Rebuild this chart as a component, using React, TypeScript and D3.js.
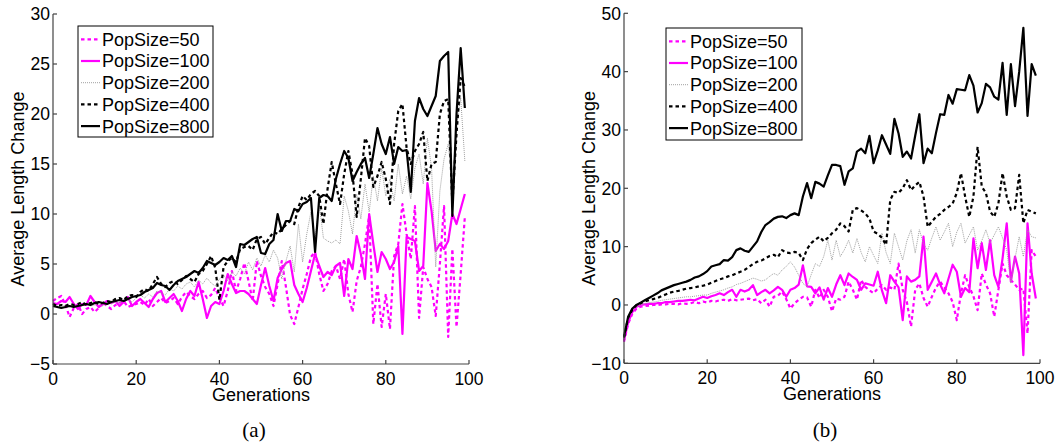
import React from 'react';
import * as d3 from 'd3';

// generations 0..99
const GENERATIONS = d3.range(100);

// panel (a)
const A_POP50 = [
  1.3, 1.6, 1.8, 0.9, -0.3, 0.6, 1.0, 0.0, 0.5, 0.7,
  0.2, 0.6, 1.2, 0.8, 0.5, 0.9, 1.1, 1.3, 0.7, 0.9,
  1.0, 1.2, 0.9, 1.5, 0.8, 1.2, 1.6, 1.1, 1.3, 1.6,
  1.0, 1.7, 2.2, 1.8, 1.5, 2.0, 2.3, 1.6, 1.9, 2.6,
  1.6, 0.8, 2.3, 4.3, 2.3, 3.5, 5.1, 3.3, 1.3, 5.3,
  3.8, 2.7, 2.0, 0.8, 3.0, 5.3, 2.7, -0.1, -1.0, 0.7,
  2.5, 4.0, 5.7, 6.2, 4.0, 2.3, 3.0, 4.3, 4.8, 3.5,
  5.5, 2.0, 0.2, 3.3, 4.7, 7.0, 9.8, -1.0, 3.0, -1.3,
  2.0, -1.5, 5.8, 7.0, 11.0, 8.0, 5.5, 10.8, -0.4, 4.7,
  3.5, 2.7, -0.2, 5.0, 10.8, -2.3, 6.5, -1.3, 4.0, 9.7,
];
const A_POP100 = [
  1.1, 1.0, 1.3, 1.2, 1.7, 1.0, 0.5, 1.0, 0.9, 1.8,
  1.2, 0.7, 1.0, 1.3, 1.1, 1.3, 0.8, 1.2, 1.7, 0.8,
  1.2, 1.5, 1.1, 0.7, 1.5, 2.1, 2.3, 1.2, 1.6, 2.0,
  1.3, 0.3, 1.5, 2.3, 1.8, 3.2, 1.5, -0.4, 0.8, 1.2,
  1.0, 2.3, 4.0, 3.0, 2.1, 2.3, 2.3, 2.0, 1.5, 1.0,
  2.9, 4.6, 2.8, 1.3, 3.6, 4.5, 5.1, 5.3, 2.9, 2.0,
  1.2, 2.6, 4.3, 6.0, 4.8, 3.7, 4.2, 3.9, 4.8, 5.1,
  1.8, 5.5, 4.5, 7.8, 6.0, 3.5, 10.0, 7.0, 4.2, 6.2,
  5.5, 4.5, 5.2, 6.8, -2.0, 7.7, 7.5, 7.3, 4.3, 4.8,
  13.1, 10.3, 6.3, 7.0, 6.5, 7.3, 10.0, 9.0, 10.5, 12.0,
];
const A_POP200 = [
  0.9, 0.8, 0.7, 0.9, 0.8, 0.7, 0.9, 0.8, 1.0, 0.8,
  0.9, 1.0, 0.8, 1.1, 1.0, 1.2, 1.1, 1.3, 1.4, 1.2,
  1.6, 1.9, 1.6, 2.0, 1.7, 2.3, 2.1, 1.9, 2.5, 2.3,
  2.8, 2.5, 3.0, 3.2, 2.7, 3.4, 3.0, 3.6, 3.1, 2.8,
  3.5, 3.9, 3.3, 4.2, 3.8, 4.6, 4.0, 5.2, 4.4, 5.6,
  4.8, 5.9, 5.2, 6.4, 5.6, 3.5, 5.3, 6.8, 4.2, 9.0,
  5.2, 8.0, 10.2, 7.5, 11.0, 7.6, 7.3, 7.1, 7.4, 7.0,
  11.8, 10.3, 8.0, 12.0, 9.5, 13.0, 10.2, 13.8, 11.3, 14.6,
  11.8, 13.5, 11.3, 15.0, 12.0, 13.8, 11.5, 14.6, 16.0, 13.0,
  17.6, 14.6, 4.7, 12.3, 15.5, 17.0, 13.0, 19.0, 21.6, 15.3,
];
const A_POP400 = [
  1.0, 0.8, 0.9, 0.8, 1.0, 0.9, 1.0, 1.2, 0.9, 1.1,
  1.2, 1.0, 1.1, 1.3, 1.2, 1.5, 1.6, 1.4, 1.8, 1.9,
  1.7, 2.2, 2.5, 2.3, 3.0, 3.7, 3.0, 2.7, 3.1, 3.3,
  3.0, 3.4, 3.8, 3.5, 3.2, 4.0, 4.3, 5.0, 5.8, 4.6,
  1.4, 4.7, 5.3, 5.6, 5.2, 6.5, 6.7, 6.8, 6.4, 7.5,
  7.7, 7.0, 7.6, 8.2, 8.0, 8.5, 8.9, 9.3, 9.0, 10.7,
  11.8, 11.4, 12.0, 12.3, 11.8, 9.0, 12.5, 15.2, 13.0, 11.0,
  14.0, 16.3, 14.0, 9.7, 13.5, 17.6, 16.8, 12.7, 13.8, 15.2,
  13.5, 11.0, 17.0, 20.3, 21.0, 16.6, 15.0, 16.3, 17.0, 18.2,
  13.3, 15.0, 15.2, 20.0, 21.3, 21.5, 11.0, 18.0, 23.6, 22.7,
];
const A_POP800 = [
  0.8, 0.7, 0.6, 0.7, 0.8, 0.7, 0.8, 0.9, 1.0, 0.9,
  1.1, 1.2, 1.1, 1.0, 1.2, 1.3, 1.4, 1.3, 1.5, 1.7,
  1.8, 1.9, 2.2, 2.4, 2.6, 3.1, 2.9, 2.8, 2.4, 2.9,
  3.3, 3.5, 3.7, 4.0, 4.3, 4.1, 4.6, 5.3, 5.1, 4.9,
  5.2, 5.6, 5.4, 5.8, 4.7, 7.0, 6.9, 7.2, 7.5, 7.7,
  6.1, 6.0, 7.0, 7.4, 10.0, 8.3, 9.3, 9.3, 10.5, 10.3,
  11.0, 11.2, 11.6, 6.2, 11.6, 11.9, 11.8, 11.3, 13.5, 15.0,
  16.3, 15.6, 13.3, 14.2, 15.0, 15.6, 13.6, 16.0, 18.6, 17.0,
  16.0, 17.7, 15.0, 16.7, 16.3, 16.4, 12.2, 19.3, 21.6, 20.5,
  19.8, 20.8, 21.8, 25.3, 25.8, 26.2, 9.8, 20.0, 26.6, 20.6,
];

// panel (b)
const B_POP50 = [
  -6.3, -3.2, -1.5, -0.6, -0.3, -0.2, -0.1, 0.0, 0.0, 0.1,
  0.1, 0.2, 0.2, 0.1, 0.3, 0.2, 0.3, 0.5, 0.3, 0.6,
  0.4, 0.7, 0.6, 0.8, 0.9, 0.7, 1.0, 0.8, 0.9, 1.0,
  1.1, 0.8, 1.0, 0.3, 0.9, -0.3, 1.4, 1.6, 2.3, 1.0,
  -0.6, 0.3, 0.9, 1.4, 1.3, -0.3, 2.6, 1.2, 2.6, 1.4,
  -1.1, 1.1, 0.9, 1.4, 4.0, 2.6, 0.9, 4.3, 3.1, 2.5,
  2.0, 2.8, 3.4, 2.6, 3.0, 2.6, 7.1, 2.6, 0.5, -3.7,
  2.6, 3.7, 1.2, -0.3, 1.4, 3.0, 4.0, 3.0, 2.0, 0.5,
  -2.6, 2.0, 5.1, 3.1, 1.5, -0.9, 5.4, 3.5, 2.0, -2.0,
  2.6, 7.1, 5.1, 4.3, 3.5, 2.6, 2.8, -4.9, 9.4, 8.3,
];
const B_POP100 = [
  -6.0, -3.0, -1.2, -0.3, 0.0, 0.1, 0.2, 0.2, 0.3, 0.3,
  0.5, 0.5, 0.6, 0.7, 0.7, 0.8, 0.9, 0.8, 1.1, 1.4,
  1.2, 1.5, 1.7, 2.0, 1.7, 2.2, 2.6, 1.4, 2.6, 2.3,
  2.6, 3.4, 1.7, 2.2, 2.6, 2.0, 2.5, 3.1, 2.6, 1.4,
  2.6, 2.9, 3.5, 6.8, 3.2, 3.1, 2.0, 3.0, 0.9, 2.9,
  1.4, 3.5, 5.1, 3.4, 5.4, 4.8, 4.3, 2.6, 3.7, 3.5,
  3.3, 5.7, 2.5, 0.3, 5.1, 4.0, 3.0, -2.6, 4.9, 4.0,
  4.3, 4.9, 11.7, 2.6, 4.0, 5.4, 3.5, 2.0, 4.5, 6.9,
  5.7, 1.4, 2.9, 2.2, 11.4, 6.3, 10.6, 6.0, 11.1, 5.1,
  3.1, 8.0, 14.0, 4.0, 8.3, 5.4, -8.6, 14.0, 5.4, 1.1,
];
const B_POP200 = [
  -5.8, -2.4, -1.0, -0.3, 0.0, 0.2, 0.4, 0.5, 0.6, 0.8,
  0.9, 1.0, 1.1, 1.2, 1.3, 1.4, 1.4, 1.5, 1.6, 1.7,
  1.7, 2.0, 2.2, 2.4, 2.6, 2.9, 3.1, 3.5, 3.7, 4.0,
  4.3, 4.6, 4.4, 4.1, 4.3, 4.9, 5.4, 5.1, 6.0, 6.6,
  7.4, 6.5, 5.1, 3.7, 3.1, 5.2, 7.1, 6.6, 8.3, 11.1,
  7.7, 11.1, 8.3, 9.5, 11.1, 8.9, 11.4, 9.0, 7.4, 10.0,
  8.5, 7.1, 12.3, 9.0, 7.1, 12.3, 10.0, 7.7, 11.0, 12.9,
  8.9, 12.9, 10.5, 9.4, 11.5, 13.4, 11.1, 12.5, 14.0, 10.0,
  12.5, 14.0, 10.6, 12.0, 13.4, 9.4, 11.0, 12.9, 10.6, 12.0,
  13.4, 11.5, 9.4, 3.7, 8.0, 11.7, 8.3, 12.9, 11.7, 11.5,
];
const B_POP400 = [
  -5.6, -2.2, -0.8, 0.0, 0.3, 0.6, 0.8, 1.0, 1.2, 1.5,
  1.8, 2.1, 2.3, 2.4, 2.6, 2.8, 2.9, 3.0, 3.2, 3.3,
  3.5, 3.8, 4.1, 4.4, 4.6, 4.9, 5.1, 5.4, 5.7, 6.0,
  6.5, 7.0, 7.4, 7.6, 8.0, 8.4, 8.6, 8.2, 9.4, 9.0,
  8.9, 9.1, 8.9, 7.7, 9.6, 10.6, 11.2, 11.7, 10.9, 11.5,
  12.3, 12.9, 14.0, 13.5, 12.6, 16.3, 16.6, 16.2, 15.7, 14.8,
  12.6, 12.2, 11.5, 10.3, 18.0, 19.4, 19.2, 20.0, 21.4, 19.7,
  20.5, 21.1, 18.6, 13.4, 14.3, 15.1, 15.6, 16.3, 16.8, 17.4,
  19.2, 22.6, 18.6, 15.1, 18.6, 27.1, 20.3, 19.2, 16.0, 15.1,
  17.4, 22.6, 18.6, 16.3, 16.6, 22.3, 14.0, 16.3, 16.0, 15.7,
];
const B_POP800 = [
  -5.4, -2.0, -0.6, 0.0, 0.4, 0.8, 1.2, 1.6, 2.0, 2.5,
  2.8, 3.1, 3.4, 3.6, 3.8, 4.0, 4.3, 4.7, 4.9, 5.3,
  5.8, 6.6, 6.8, 7.0, 7.7, 7.6, 8.2, 9.4, 9.7, 9.3,
  9.1, 10.0, 10.9, 12.5, 13.7, 14.2, 14.8, 15.1, 15.2, 14.9,
  15.4, 15.7, 15.4, 18.6, 20.9, 18.3, 21.1, 20.8, 20.3, 22.2,
  24.0, 24.0, 23.8, 20.6, 22.9, 23.4, 26.3, 26.8, 26.0, 29.0,
  24.3, 26.5, 29.1, 27.5, 25.9, 31.9, 29.4, 25.4, 26.3, 25.1,
  29.0, 32.7, 24.3, 26.8, 26.0, 29.5, 32.7, 32.6, 36.0, 34.5,
  37.0, 36.9, 36.8, 39.4, 37.6, 33.0, 34.6, 37.9, 37.3, 35.7,
  35.2, 41.5, 32.6, 41.3, 34.1, 40.0, 47.5, 32.4, 41.3, 39.3,
];

const SERIES_LABELS = ['PopSize=50', 'PopSize=100', 'PopSize=200', 'PopSize=400', 'PopSize=800'];
const X_TICKS = [0, 20, 40, 60, 80, 100];
const A_Y_TICKS = [-5, 0, 5, 10, 15, 20, 25, 30];
const B_Y_TICKS = [-10, 0, 10, 20, 30, 40, 50];

const STYLES = [
  { color: '#ff00ff', width: 2.2, dash: '3.5,3' },
  { color: '#ff00ff', width: 2.2, dash: null },
  { color: '#a0a0a0', width: 1, dash: '1,1' },
  { color: '#000000', width: 2.2, dash: '3.5,3' },
  { color: '#000000', width: 2.2, dash: null },
];

const FONT = '"Liberation Sans", Arial, sans-serif';
const AXIS_COLOR = '#444';

const PANELS = [
  {
    id: 'a', left: 53, top: 14, yDomain: [-5, 30], yTicks: A_Y_TICKS,
    series: [A_POP50, A_POP100, A_POP200, A_POP400, A_POP800],
    legend: { x: 78, y: 26, w: 135, h: 111 }, caption: 254,
  },
  {
    id: 'b', left: 624, top: 13.3, yDomain: [-10, 50], yTicks: B_Y_TICKS,
    series: [B_POP50, B_POP100, B_POP200, B_POP400, B_POP800],
    legend: { x: 666, y: 28, w: 136, h: 112 }, caption: 825,
  },
];

const W = 416;
const H = 350;

const fmt = (v) => (v < 0 ? `\u2212${Math.abs(v)}` : `${v}`);

const Panel = ({ p }) => {
  const x = d3.scaleLinear().domain([0, 100]).range([p.left, p.left + W]);
  const y = d3.scaleLinear().domain(p.yDomain).range([p.top + H, p.top]);
  const bottom = p.top + H;
  const line = d3.line().x((d, i) => x(GENERATIONS[i])).y((d) => y(d));
  const lg = p.legend;

  return (
    <g>
      {p.series.map((vals, i) => (
        <path
          key={i}
          d={line(vals)}
          fill="none"
          stroke={STYLES[i].color}
          strokeWidth={STYLES[i].width}
          strokeDasharray={STYLES[i].dash || undefined}
          strokeLinejoin="round"
        />
      ))}

      {/* axes */}
      <line x1={p.left} x2={p.left} y1={p.top} y2={bottom} stroke={AXIS_COLOR} strokeWidth={1.2} />
      <line x1={p.left} x2={p.left + W} y1={bottom} y2={bottom} stroke={AXIS_COLOR} strokeWidth={1.2} />
      {p.yTicks.map((t) => (
        <g key={`y${t}`}>
          <line x1={p.left} x2={p.left + 4} y1={y(t)} y2={y(t)} stroke={AXIS_COLOR} strokeWidth={1.2} />
          <text x={p.left - 3} y={y(t)} dy="0.36em" textAnchor="end" fontSize={17.5} fontFamily={FONT}>
            {fmt(t)}
          </text>
        </g>
      ))}
      {X_TICKS.map((t) => (
        <g key={`x${t}`}>
          <line x1={x(t)} x2={x(t)} y1={bottom} y2={bottom - 4} stroke={AXIS_COLOR} strokeWidth={1.2} />
          <text x={x(t)} y={bottom + 20.5} textAnchor="middle" fontSize={17.5} fontFamily={FONT}>
            {t}
          </text>
        </g>
      ))}
      <text x={p.left + W / 2} y={bottom + 36.5} textAnchor="middle" fontSize={18} fontFamily={FONT}>
        Generations
      </text>
      <text
        transform={`translate(${p.left - 29},${p.top + H / 2}) rotate(-90)`}
        textAnchor="middle"
        fontSize={18}
        fontFamily={FONT}
      >
        Average Length Change
      </text>
      <text x={p.caption} y={437} textAnchor="middle" fontSize={21} fontFamily='"Liberation Serif", "Times New Roman", serif'>
        ({p.id})
      </text>

      {/* legend */}
      <rect x={lg.x} y={lg.y} width={lg.w} height={lg.h} fill="#fff" stroke="#000" strokeWidth={1} />
      {SERIES_LABELS.map((label, i) => {
        const cy = lg.y + 13.3 + i * 21.7;
        return (
          <g key={label}>
            <line
              x1={lg.x + 3}
              x2={lg.x + 22}
              y1={cy}
              y2={cy}
              stroke={STYLES[i].color}
              strokeWidth={STYLES[i].width}
              strokeDasharray={STYLES[i].dash || undefined}
            />
            <text x={lg.x + 24} y={cy} dy="0.36em" fontSize={18} fontFamily={FONT}>
              {label}
            </text>
          </g>
        );
      })}
    </g>
  );
};

export default function App() {
  return (
    <svg
      width={1055}
      height={447}
      style={{ position: 'absolute', left: 0, top: 0, background: '#fff' }}
    >
      {PANELS.map((p) => (
        <Panel key={p.id} p={p} />
      ))}
    </svg>
  );
}
